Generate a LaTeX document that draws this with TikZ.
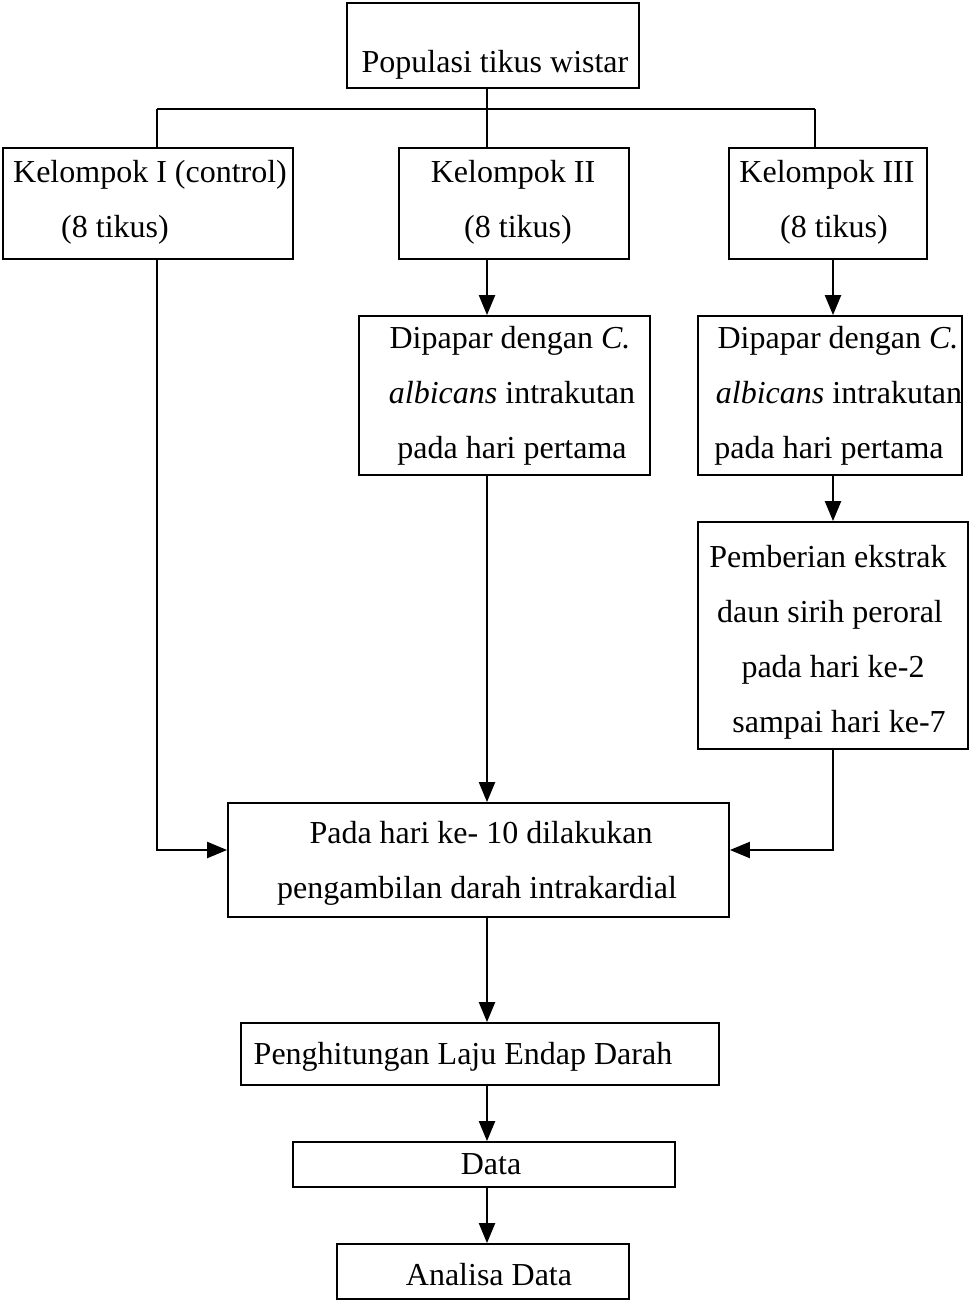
\documentclass[tikz,border=0pt]{standalone}
\usepackage{fontspec}
\setmainfont{Liberation Serif}
\usetikzlibrary{arrows.meta}
\begin{document}
\begin{tikzpicture}[x=1pt,y=-1pt,
 box/.style={draw, line width=1.8pt, inner sep=0pt},
 txt/.style={anchor=base, inner sep=0pt, font=\fontsize{32}{38}\selectfont},
 conn/.style={line width=2.2pt},
 arr/.style={conn, -{Triangle[length=20pt,width=16pt]}}]
\useasboundingbox (0,0) rectangle (970,1301);
% boxes
\node[box, minimum width=292pt, minimum height=85pt] (top) at (493,45.5) {};
\node[box, minimum width=290pt, minimum height=111pt] (k1) at (148,203.5) {};
\node[box, minimum width=230pt, minimum height=111pt] (k2) at (514,203.5) {};
\node[box, minimum width=198pt, minimum height=111pt] (k3) at (828,203.5) {};
\node[box, minimum width=291pt, minimum height=159pt] (d2) at (504.5,395.5) {};
\node[box, minimum width=264pt, minimum height=159pt] (d3) at (830,395.5) {};
\node[box, minimum width=270pt, minimum height=227pt] (p3) at (833,635.5) {};
\node[box, minimum width=501pt, minimum height=114pt] (h) at (478.5,860) {};
\node[box, minimum width=478pt, minimum height=62pt] (l) at (480,1054) {};
\node[box, minimum width=382pt, minimum height=45pt] (data) at (484,1164.5) {};
\node[box, minimum width=292pt, minimum height=55pt] (an) at (483,1271.5) {};
% texts
\node[txt] (t0) at (495,72) {Populasi tikus wistar};
\node[txt] (t1a) at (150,182) {Kelompok I (control)};
\node[txt] (t1b) at (115,237) {(8 tikus)};
\node[txt] (t2a) at (513,182) {Kelompok II};
\node[txt] (t2b) at (518,237) {(8 tikus)};
\node[txt] (t3a) at (827,182) {Kelompok III};
\node[txt] (t3b) at (834,237) {(8 tikus)};
\node[txt] (t4a) at (510,348) {Dipapar dengan \textit{C.}};
\node[txt] (t4b) at (512,403) {\textit{albicans} intrakutan};
\node[txt] (t4c) at (512,458) {pada hari pertama};
\node[txt] (t5a) at (838,348) {Dipapar dengan \textit{C.}};
\node[txt] (t5b) at (839,403) {\textit{albicans} intrakutan};
\node[txt] (t5c) at (829,458) {pada hari pertama};
\node[txt] (t6a) at (828,567) {Pemberian ekstrak};
\node[txt] (t6b) at (830,622) {daun sirih peroral};
\node[txt] (t6c) at (833,677) {pada hari ke-2};
\node[txt] (t6d) at (839,732) {sampai hari ke-7};
\node[txt] (t7a) at (481,843) {Pada hari ke- 10 dilakukan};
\node[txt] (t7b) at (477,898) {pengambilan darah intrakardial};
\node[txt] (t8) at (463,1064) {Penghitungan Laju Endap Darah};
\node[txt] (t9) at (491,1174) {Data};
\node[txt] (t10) at (489,1285) {Analisa Data};
% connectors
\coordinate (j1) at (487,109);
\coordinate (jl) at (157,109);
\coordinate (jr) at (815,109);
\coordinate (c1) at (157,850);
\coordinate (c3) at (833,850);
\draw[conn] (top.south -| j1) -- (j1);
\draw[conn] (jl) -- (jr);
\draw[conn] (jl) -- (jl |- k1.north);
\draw[conn] (j1) -- (j1 |- k2.north);
\draw[conn] (jr) -- (jr |- k3.north);
\draw[arr] (k1.south -| c1) -- (c1) -- (c1 -| h.west);
\draw[arr] (k2.south -| j1) -- (d2.north -| j1);
\draw[arr] (d2.south -| j1) -- (h.north -| j1);
\draw[arr] (k3.south -| c3) -- (d3.north -| c3);
\draw[arr] (d3.south -| c3) -- (p3.north -| c3);
\draw[arr] (p3.south -| c3) -- (c3) -- (c3 -| h.east);
\draw[arr] (h.south -| j1) -- (l.north -| j1);
\draw[arr] (l.south -| j1) -- (data.north -| j1);
\draw[arr] (data.south -| j1) -- (an.north -| j1);
\end{tikzpicture}
\end{document}
